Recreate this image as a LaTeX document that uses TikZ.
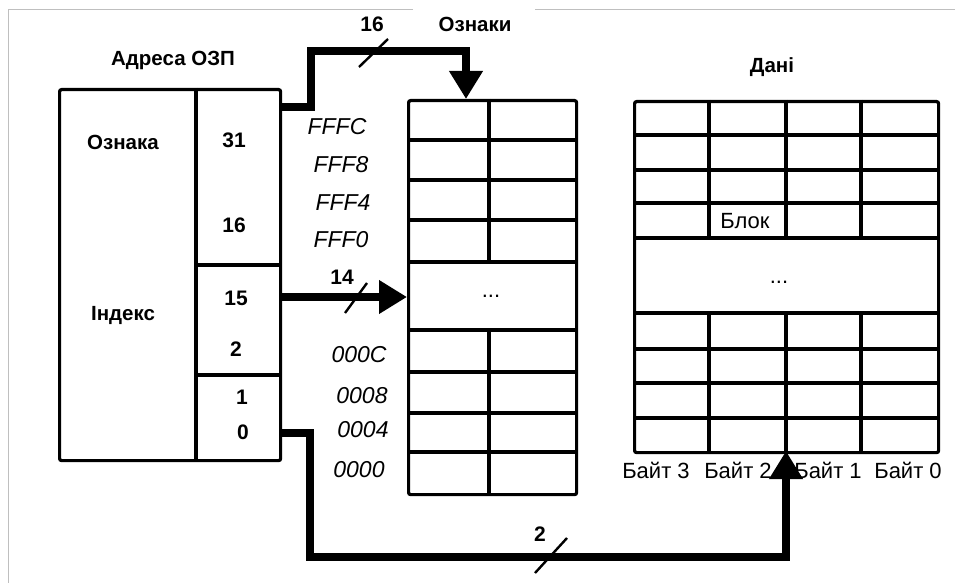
\documentclass[tikz,border=0pt]{standalone}
\usepackage{fontspec}
\setmainfont{Liberation Sans}
\usetikzlibrary{arrows.meta}
\begin{document}
\begin{tikzpicture}[x=1pt,y=-1pt,
  box/.style={draw, line width=3.2pt, rounded corners=2pt, inner sep=0pt, anchor=north west},
  gridline/.style={line width=3.2pt},
  bus/.style={line width=8pt, line join=miter, -{Triangle[length=28pt 0 0,width=32pt 0 0]}},
  tickmark/.style={line width=2.4pt},
  lbl/.style={font=\fontsize{20.5}{24}\selectfont\bfseries, inner sep=0pt},
  bnum/.style={font=\fontsize{21}{24}\selectfont\bfseries, inner sep=0pt},
  num/.style={font=\fontsize{22}{24}\selectfont, inner sep=0pt},
  hex/.style={font=\fontsize{23}{26}\selectfont\itshape, inner sep=0pt},
  framel/.style={draw=black!25, line width=1pt}]
\useasboundingbox (0,0) rectangle (955,583);
% light frame
\draw[framel] (413,10) -- (8,10) -- (8,583);
\draw[framel] (535,10) -- (955,10);
% address box
\node[box, minimum width=221pt, minimum height=371pt] (addr) at (58,88) {};
\draw[gridline] (196,88) -- (196,459);
\draw[gridline] (196,265) -- (279,265);
\draw[gridline] (196,375) -- (279,375);
% tag array
\node[box, minimum width=168pt, minimum height=394pt] (tag) at (407,99) {};
\foreach \y in {140,180,220,262,330,372,413,452} \draw[gridline] (407,\y) -- (575,\y);
\draw[gridline] (489,99) -- (489,262);
\draw[gridline] (489,330) -- (489,493);
% data array
\node[box, minimum width=304pt, minimum height=351pt] (data) at (633,100) {};
\foreach \y in {135,170,203,238,313,349,383,418} \draw[gridline] (633,\y) -- (937,\y);
\foreach \x in {709,786,861} {\draw[gridline] (\x,100) -- (\x,238); \draw[gridline] (\x,313) -- (\x,451);}
% connector end points
\coordinate (a16) at (279,107);
\coordinate (a14) at (279,297);
\coordinate (a2) at (279,433);
\coordinate (t16) at (466,99);
\coordinate (t14) at (407,297);
\coordinate (d2) at (786,451);
% buses
\draw[bus] (a16) -- (311,107) -- (311,51) -- (466,51) -- (t16);
\draw[bus] (a14) -- (t14);
\draw[bus] (a2) -- (310,433) -- (310,557) -- (786,557) -- (d2);
% bus width ticks
\draw[tickmark] (359,67) -- (388,39);
\draw[tickmark] (345,313) -- (367,283);
\draw[tickmark] (535,573) -- (567,538);
\node[bnum] (n16) at (372,24) {16};
\node[bnum] (n14) at (342,277) {14};
\node[bnum] (n2) at (540,534) {2};
% titles
\node[lbl] (t1) at (173,60) {Адреса ОЗП};
\node[lbl] (t2) at (475,24) {Ознаки};
\node[lbl] (t3) at (772,67) {Дані};
\node[lbl] (t4) at (123,142) {Ознака};
\node[lbl] (t5) at (123,315) {Індекс};
% bit numbers
\node[bnum] at (234,140) {31};
\node[bnum] at (234,225) {16};
\node[bnum] at (236,298) {15};
\node[bnum] at (236,349) {2};
\node[bnum] at (242,397) {1};
\node[bnum] at (243,432) {0};
% hex addresses
\node[hex] at (337,127) {FFFC};
\node[hex] at (341,165) {FFF8};
\node[hex] at (343,203) {FFF4};
\node[hex] at (341,240) {FFF0};
\node[hex] at (359,355) {000C};
\node[hex] at (362,396) {0008};
\node[hex] at (363,430) {0004};
\node[hex] at (359,470) {0000};
% inner labels
\node[num] at (491,296) {...};
\node[num] at (779,282) {...};
\node[num] at (745,221) {Блок};
\node[num] at (656,470) {Байт 3};
\node[num] at (738,470) {Байт 2};
\node[num] at (828,470) {Байт 1};
\node[num] at (908,470) {Байт 0};
\end{tikzpicture}
\end{document}
